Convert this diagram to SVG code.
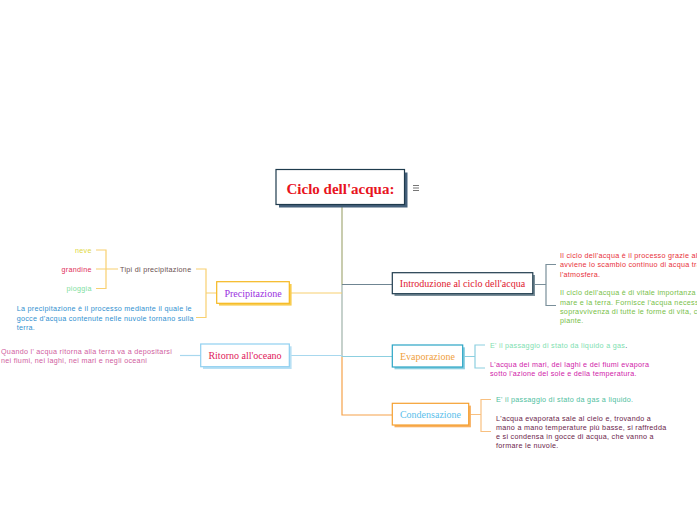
<svg xmlns="http://www.w3.org/2000/svg" width="697" height="520" viewBox="0 0 697 520">
<style>
.t{font-family:"Liberation Sans",Arial,sans-serif;font-size:7.2px;letter-spacing:0.28px;}
.n{font-family:"Liberation Serif","Times New Roman",serif;font-size:10px;text-anchor:middle;}
.c{fill:none;stroke-width:1.2;}
</style>
<rect width="697" height="520" fill="#ffffff"/>
<g id="connectors" class="c">
  <path d="M342 207V285" stroke="#a4aa78"/>
  <path d="M342 285V357" stroke="#9fb3a9"/>
  <path d="M342 357V415H392" stroke="#f5a24a"/>
  <path d="M289 293H342" stroke="#f8d070"/>
  <path d="M342 284.5H392" stroke="#6f8592"/>
  <path d="M289 355.5H342" stroke="#a8d8ee"/>
  <path d="M342 356.5H392" stroke="#8ccfe0"/>
  <path d="M533 284.5H546M556 264.5H546V305.5H556" stroke="#7a8f9a"/>
  <path d="M463 356.5H475M485 345H475V368H485" stroke="#8ccfe0"/>
  <path d="M469 414.5H481M491 399.5H481V431.5H491" stroke="#f8c080"/>
  <path d="M217 293H206M196 269H206V317.5H196" stroke="#f8d070"/>
  <path d="M96 250H106V288.5H96M96 269H118" stroke="#f8d070"/>
  <path d="M201 355.5H180" stroke="#a8d8ee"/>
</g>
<g id="central">
  <rect x="279" y="172.5" width="128.5" height="35" fill="#44607a"/>
  <rect x="276" y="169.5" width="128.5" height="35" fill="#ffffff" stroke="#1f3b4d" stroke-width="1.2"/>
  <text x="340.5" y="193.5" font-family="Liberation Serif,serif" font-size="15" font-weight="bold" fill="#e8141e" text-anchor="middle">Ciclo dell'acqua:</text>
  <path d="M413 185.5h6M413 188h6M413 190.5h6" stroke="#666" stroke-width="0.9"/>
</g>
<g id="introduzione">
  <rect x="394.5" y="275" width="140.5" height="21" fill="#7a8f9a"/>
  <rect x="392.3" y="272.7" width="140.5" height="21" fill="#fff" stroke="#1f3b4d" stroke-width="1.2"/>
  <text class="n" x="462.5" y="287" fill="#e02030">Introduzione al ciclo dell'acqua</text>
</g>
<g id="intro-text" class="t">
  <text x="560" y="258" fill="#e8303a">Il ciclo dell'acqua è il processo grazie al</text>
  <text x="560" y="267.3" fill="#e8303a">avviene lo scambio continuo di acqua tra</text>
  <text x="560" y="276.6" fill="#e8303a">l'atmosfera.</text>
  <text x="560" y="295.2" fill="#78c048">Il ciclo dell'acqua è di vitale importanza</text>
  <text x="560" y="304.5" fill="#78c048">mare e la terra. Fornisce l'acqua necessa</text>
  <text x="560" y="313.8" fill="#78c048">sopravvivenza di tutte le forme di vita, c</text>
  <text x="560" y="323.1" fill="#78c048">piante.</text>
</g>
<g id="evaporazione">
  <rect x="394.5" y="347.3" width="70.4" height="22" fill="#8ccfe0"/>
  <rect x="392.3" y="345" width="70.4" height="22" fill="#fff" stroke="#2aa5c5" stroke-width="1.2"/>
  <text class="n" x="427.5" y="360" fill="#f0a040">Evaporazione</text>
</g>
<g id="evap-text" class="t">
  <text x="490" y="348.3" fill="#80e0b0">E' il passaggio di stato da liquido a gas<tspan fill="#333">.</tspan></text>
  <text x="490" y="366.8" fill="#d020a8">L'acqua dei mari, dei laghi e dei fiumi evapora</text>
  <text x="490" y="376.2" fill="#d020a8">sotto l'azione del sole e della temperatura.</text>
</g>
<g id="condensazione">
  <rect x="394.5" y="405.6" width="76.4" height="21.7" fill="#f8b060"/>
  <rect x="392.3" y="403.3" width="76.4" height="21.7" fill="#fff" stroke="#f5a030" stroke-width="1.2"/>
  <text class="n" x="430.5" y="418" fill="#5bc0eb">Condensazione</text>
</g>
<g id="cond-text" class="t">
  <text x="496" y="401.8" fill="#50c0a0">E' il passaggio di stato da gas a liquido.</text>
  <text x="496" y="421.2" fill="#6b1d4a">L'acqua evaporata sale al cielo e, trovando a</text>
  <text x="496" y="430.2" fill="#6b1d4a">mano a mano temperature più basse, si raffredda</text>
  <text x="496" y="439.2" fill="#6b1d4a">e si condensa in gocce di acqua, che vanno a</text>
  <text x="496" y="448.2" fill="#6b1d4a">formare le nuvole.</text>
</g>
<g id="precipitazione">
  <rect x="219" y="284" width="72.6" height="21.6" fill="#f8cc50"/>
  <rect x="216.7" y="281.7" width="72.6" height="21.6" fill="#fff" stroke="#f5b820" stroke-width="1.2"/>
  <text class="n" x="253" y="296.5" fill="#9b30e0">Precipitazione</text>
</g>
<g id="tipi" class="t">
  <text x="120" y="271.8" fill="#6b5050">Tipi di precipitazione</text>
</g>
<g id="tipi-items" class="t" text-anchor="end">
  <text x="91.7" y="253" fill="#e0d840">neve</text>
  <text x="91.7" y="271.8" fill="#e0305a">grandine</text>
  <text x="91.7" y="291.3" fill="#80e0a0">pioggia</text>
</g>
<g id="precip-text" class="t">
  <text x="16.7" y="311.2" fill="#3090d0">La precipitazione è il processo mediante il quale le</text>
  <text x="16.7" y="320.5" fill="#3090d0">gocce d'acqua contenute nelle nuvole tornano sulla</text>
  <text x="16.7" y="329.8" fill="#3090d0">terra.</text>
</g>
<g id="ritorno">
  <rect x="203" y="346.3" width="88.6" height="22.7" fill="#b8e0f4"/>
  <rect x="200.7" y="344" width="88.6" height="22.7" fill="#fff" stroke="#90d0f0" stroke-width="1.2"/>
  <text class="n" x="245" y="359" fill="#e0205a">Ritorno all'oceano</text>
</g>
<g id="ritorno-text" class="t">
  <text x="1" y="354.2" fill="#d060a0">Quando l' acqua ritorna alla terra va a depositarsi</text>
  <text x="1" y="363.2" fill="#d060a0">nei fiumi, nei laghi, nei mari e negli oceani</text>
</g>
</svg>
